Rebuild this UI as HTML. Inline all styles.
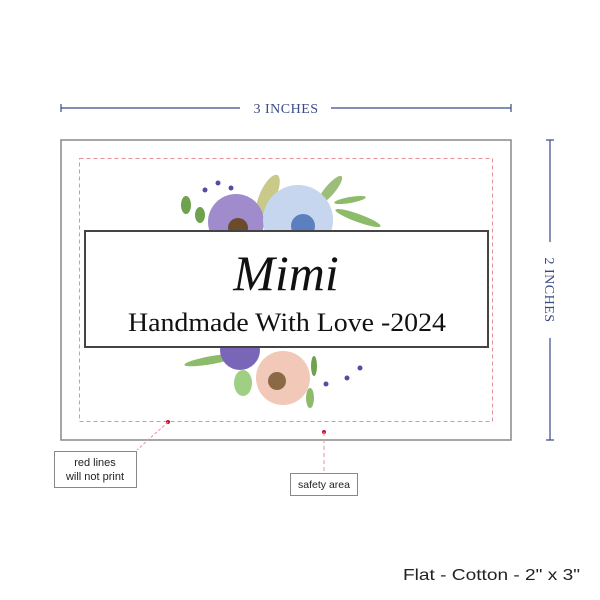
<!DOCTYPE html>
<html><head><style>body{margin:0;background:#fff}svg{display:block}</style></head><body>
<svg width="600" height="600" viewBox="0 0 600 600" xmlns="http://www.w3.org/2000/svg">
<rect width="600" height="600" fill="#fff"/>
<g stroke="#3a4a85" stroke-width="1.2" fill="none">
<line x1="61" y1="108" x2="240" y2="108"/><line x1="331" y1="108" x2="511" y2="108"/>
<line x1="61" y1="104" x2="61" y2="112"/><line x1="511" y1="104" x2="511" y2="112"/>
<line x1="550" y1="140" x2="550" y2="242"/><line x1="550" y1="338" x2="550" y2="440"/>
<line x1="546" y1="140" x2="554" y2="140"/><line x1="546" y1="440" x2="554" y2="440"/>
</g>
<text x="286" y="113" font-family="Liberation Serif,serif" font-size="14" fill="#3a4a85" text-anchor="middle" letter-spacing="0.5">3 INCHES</text>
<text transform="translate(545,290) rotate(90)" font-family="Liberation Serif,serif" font-size="14" fill="#3a4a85" text-anchor="middle" letter-spacing="0.5">2 INCHES</text>
<rect x="61" y="140" width="450" height="300" fill="#fff" stroke="#888" stroke-width="1.5"/>
<rect x="79.5" y="158.5" width="413" height="263" fill="none" stroke="#e8909a" stroke-width="1" stroke-dasharray="4,3"/>
<g>
<ellipse cx="268" cy="195" rx="22" ry="8" fill="#c9c98a" transform="rotate(-65 268 195)"/>
<ellipse cx="330" cy="190" rx="18" ry="5" fill="#9bbf7a" transform="rotate(-50 330 190)"/>
<ellipse cx="358" cy="218" rx="24" ry="4" fill="#8cbc6a" transform="rotate(20 358 218)"/>
<ellipse cx="350" cy="200" rx="16" ry="3" fill="#8cbc6a" transform="rotate(-10 350 200)"/>
<ellipse cx="186" cy="205" rx="5" ry="9" fill="#6ea24e"/>
<ellipse cx="200" cy="215" rx="5" ry="8" fill="#6ea24e"/>
<circle cx="218" cy="183" r="2.5" fill="#5a4aa0"/><circle cx="205" cy="190" r="2.5" fill="#5a4aa0"/><circle cx="231" cy="188" r="2.5" fill="#5a4aa0"/><circle cx="220" cy="207" r="2.5" fill="#5a4aa0"/>
<circle cx="236" cy="222" r="28" fill="#a08ccc"/>
<circle cx="238" cy="228" r="10" fill="#6b4b2c"/>
<circle cx="298" cy="220" r="35" fill="#c6d6ee"/>
<circle cx="303" cy="226" r="12" fill="#5c7fc0"/>
</g>
<g>
<ellipse cx="212" cy="360" rx="28" ry="4" fill="#8cbc6a" transform="rotate(-10 212 360)"/>
<ellipse cx="243" cy="383" rx="9" ry="13" fill="#9fcf85"/>
<ellipse cx="310" cy="398" rx="4" ry="10" fill="#8cbc6a"/>
<ellipse cx="314" cy="366" rx="3" ry="10" fill="#6ea24e"/>
<circle cx="240" cy="350" r="20" fill="#7a66b8"/>
<circle cx="283" cy="378" r="27" fill="#f2c8b8"/>
<circle cx="277" cy="381" r="9" fill="#8a6a44"/>
<circle cx="326" cy="384" r="2.5" fill="#5a4aa0"/><circle cx="347" cy="378" r="2.5" fill="#5a4aa0"/><circle cx="360" cy="368" r="2.5" fill="#5a4aa0"/>
</g>
<rect x="85" y="231" width="403" height="116" fill="#fff" stroke="#444" stroke-width="2"/>
<text x="286" y="290" font-family="Liberation Serif,serif" font-style="italic" font-size="50" fill="#111" text-anchor="middle">Mimi</text>
<text x="287" y="331" font-family="Liberation Serif,serif" font-size="26" fill="#111" text-anchor="middle" textLength="318" lengthAdjust="spacingAndGlyphs">Handmade With Love -2024</text>
<circle cx="168" cy="422" r="2" fill="#c8102e"/>
<line x1="168" y1="422" x2="137" y2="450" stroke="#e8909a" stroke-width="1" stroke-dasharray="3,2"/>
<circle cx="324" cy="432" r="2" fill="#c8102e"/>
<line x1="324" y1="432" x2="324" y2="473" stroke="#e8909a" stroke-width="1" stroke-dasharray="4,3"/>
<rect x="54.5" y="451.5" width="82" height="36" fill="#fff" stroke="#888" stroke-width="1"/>
<text x="95" y="466" font-family="Liberation Sans,sans-serif" font-size="11" fill="#222" text-anchor="middle">red lines</text>
<text x="95" y="480" font-family="Liberation Sans,sans-serif" font-size="11" fill="#222" text-anchor="middle">will not print</text>
<rect x="290.5" y="473.5" width="67" height="22" fill="#fff" stroke="#888" stroke-width="1"/>
<text x="324" y="488" font-family="Liberation Sans,sans-serif" font-size="10.5" fill="#222" text-anchor="middle">safety area</text>
<text x="403" y="580" font-family="Liberation Sans,sans-serif" font-size="16" fill="#222" textLength="177" lengthAdjust="spacingAndGlyphs">Flat - Cotton - 2" x 3"</text>
</svg>
</body></html>
